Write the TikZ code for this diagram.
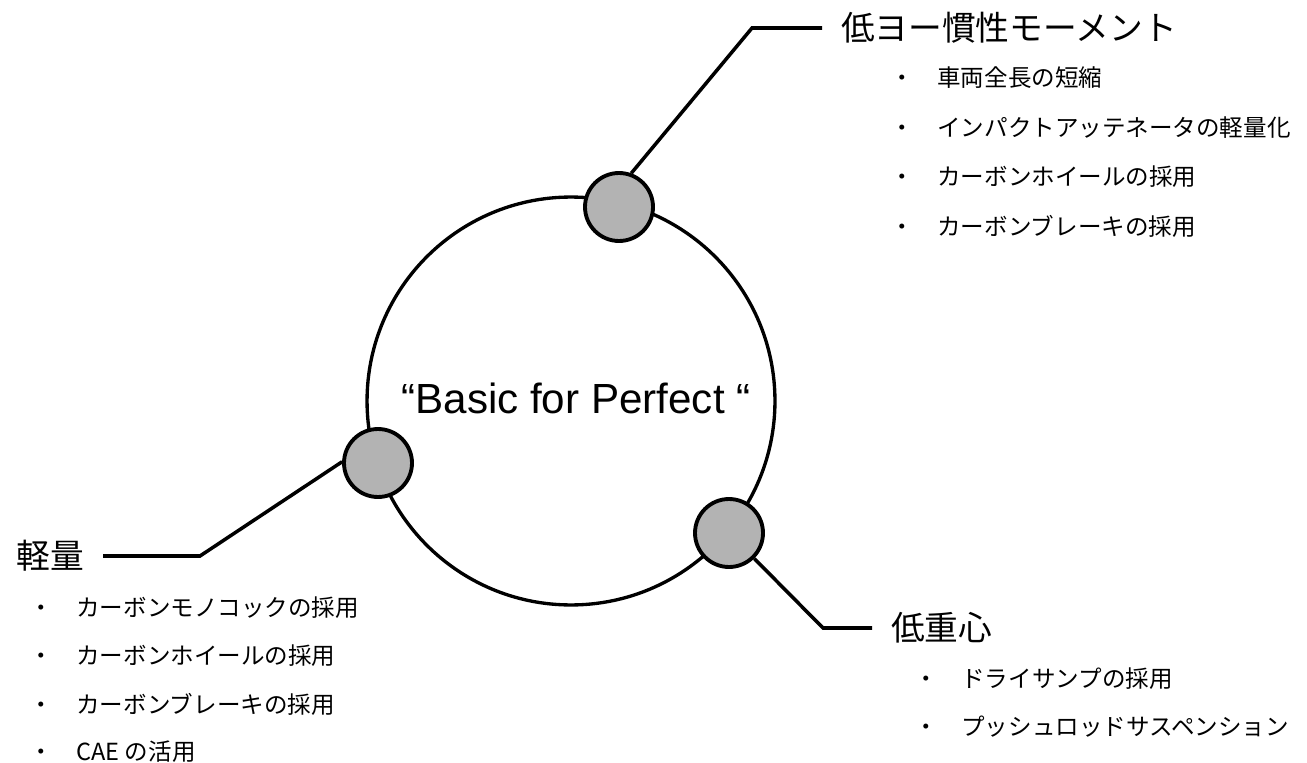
\documentclass[tikz,border=0pt]{standalone}
\usepackage{fontspec}
\setmainfont{Liberation Sans}
\newfontfamily\jp{Noto Sans CJK JP}
\definecolor{ballgray}{RGB}{179,179,179}
\begin{document}
\begin{tikzpicture}[x=0.02cm, y=-0.02cm,
  hub/.style={circle, draw, line width=1.9pt, minimum size=8.16cm, inner sep=0pt},
  ball/.style={circle, draw, fill=ballgray, line width=2.2pt, minimum size=1.36cm, inner sep=0pt},
  head/.style={inner sep=0pt, outer sep=0.38cm, font=\jp\fontsize{19.2}{23}\selectfont},
  itm/.style={anchor=west, inner sep=0pt, font=\jp\fontsize{13.4}{16}\selectfont},
  lead/.style={line width=2pt}]
\useasboundingbox (0,0) rectangle (1307,763);
\node[hub] (core) at (571,401) {};
\node[font=\fontsize{24}{29}\selectfont] (motto) at (576,398) {“Basic for Perfect “};
\node[head, anchor=west] (yawtitle) at (822,28) {低ヨー慣性モーメント};
\node[head, anchor=east] (masstitle) at (103,556) {軽量};
\node[head, anchor=west] (cogtitle) at (872,628) {低重心};
\coordinate (yawbend) at (752,28);
\coordinate (massbend) at (200,556);
\coordinate (cogbend) at (823,628);
\node[ball] (yaw) at (619,207) {};
\node[ball] (mass) at (378,463) {};
\node[ball] (cog) at (729,533) {};
\draw[lead] (yaw.70) -- (yawbend) -- (yawtitle.west);
\draw[lead] (mass.178) -- (massbend) -- (masstitle.east);
\draw[lead] (cog) -- (cogbend) -- (cogtitle.west);
\foreach \t [count=\i] in {車両全長の短縮, インパクトアッテネータの軽量化, カーボンホイールの採用, カーボンブレーキの採用}
  \node[itm] (yaw\i) at (890,{78+49.5*(\i-1)}) {・\hspace{1em}\t};
\foreach \t [count=\i] in {カーボンモノコックの採用, カーボンホイールの採用, カーボンブレーキの採用, CAE の活用}
  \node[itm] (mass\i) at (29,{608+48*(\i-1)}) {・\hspace{1em}\t};
\foreach \t [count=\i] in {ドライサンプの採用, プッシュロッドサスペンション}
  \node[itm] (cog\i) at (914,{679+48*(\i-1)}) {・\hspace{1em}\t};
\end{tikzpicture}
\end{document}
